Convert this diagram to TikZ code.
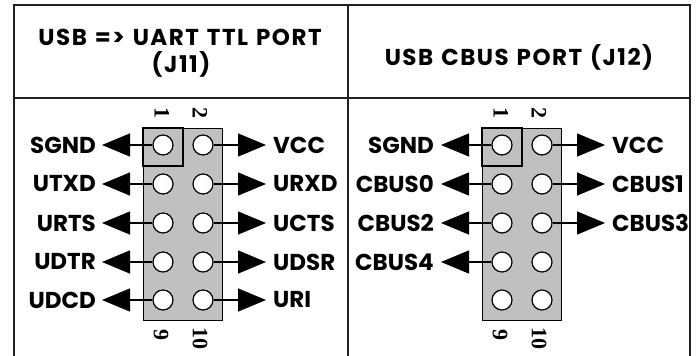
\documentclass[tikz,border=0pt]{standalone}
\usepackage{fontspec}
\setmainfont{Poppins}
\newfontfamily\numfont{Liberation Serif}
\newfontfamily\hdrfont[LetterSpace=6.5,WordSpace=1.25]{Poppins}
\usetikzlibrary{arrows.meta}
\definecolor{boxgray}{HTML}{C0C0C0}
\definecolor{rule}{HTML}{222222}
\begin{document}
\begin{tikzpicture}[x=1pt,y=-1pt,
  tableline/.style={line width=2pt,draw=rule},
  hdr/.style={font=\hdrfont\bfseries\fontsize{23}{23}\selectfont,inner sep=0pt,anchor=base},
  lbl/.style={font=\bfseries\fontsize{23}{26}\selectfont,inner sep=0pt},
  num/.style={font=\numfont\bfseries\fontsize{22}{22}\selectfont,inner sep=0pt,rotate=-90},
  header/.style={draw=black,line width=1.4pt,fill=boxgray,minimum width=79pt,minimum height=192pt,inner sep=0pt,anchor=north west},
  pinbox/.style={draw=black,line width=1.2pt},
  pin/.style={circle,draw=black,fill=white,line width=1.2pt,minimum size=20pt,inner sep=0pt},
  conn/.style={line width=1.3pt,-{Triangle[length=28pt,width=23pt]}}]
\useasboundingbox (0,0) rectangle (699,356);
% table
\draw[tableline] (14,356) -- (14,4.5) -- (690,4.5) -- (690,356);
\draw[tableline] (348,4.5) -- (348,356);
\draw[tableline] (14,97.5) -- (690,97.5);
\node[hdr] (t1a) at (180,45) {USB => UART TTL PORT};
\node[hdr] (t1b) at (181,72) {(J11)};
\node[hdr] (t2) at (519,65) {USB CBUS PORT (J12)};
% connectors
\foreach \ox/\s in {0/L,339/R} {
  \node[header] (\s box) at (143+\ox,128) {};
  \draw[pinbox] (143+\ox,128) rectangle (183+\ox,166);
  \foreach \r/\y in {1/145,2/184,3/223,4/262,5/300} {
    \node[pin] (\s\r-a) at (163+\ox,\y) {};
    \node[pin] (\s\r-b) at (203+\ox,\y) {};
  }
  \node[num] (\s n1) at (162+\ox,113) {1};
  \node[num] (\s n2) at (200+\ox,112.5) {2};
  \node[num] (\s n9) at (161+\ox,335) {9};
  \node[num] (\s n10) at (200+\ox,338) {10};
}
% left connector signals
\foreach \r/\y/\t in {1/145/SGND,2/184/UTXD,3/223/URTS,4/262/UDTR,5/300/UDCD} {
  \coordinate (Lt\r-a) at (102,\y);
  \draw[conn] (L\r-a.west) -- (Lt\r-a);
  \node[lbl,anchor=east] (Ll\r-a) at (96,\y) {\t};
}
\foreach \r/\y/\t in {1/145/VCC,2/184/URXD,3/223/UCTS,4/262/UDSR,5/300/URI} {
  \coordinate (Lt\r-b) at (266,\y);
  \draw[conn] (L\r-b.east) -- (Lt\r-b);
  \node[lbl,anchor=west] (Ll\r-b) at (273,\y) {\t};
}
% right connector signals
\foreach \r/\y/\t in {1/145/SGND,2/184/CBUS0,3/223/CBUS2,4/262/CBUS4} {
  \coordinate (Rt\r-a) at (441,\y);
  \draw[conn] (R\r-a.west) -- (Rt\r-a);
  \node[lbl,anchor=east] (Rl\r-a) at (434,\y) {\t};
}
\foreach \r/\y/\t in {1/145/VCC,2/184/CBUS1,3/223/CBUS3} {
  \coordinate (Rt\r-b) at (605,\y);
  \draw[conn] (R\r-b.east) -- (Rt\r-b);
  \node[lbl,anchor=west] (Rl\r-b) at (612,\y) {\t};
}
\end{tikzpicture}
\end{document}
